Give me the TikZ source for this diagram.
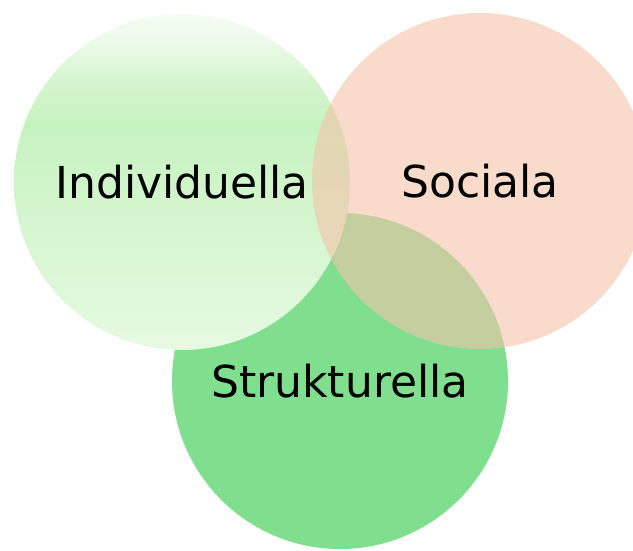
\documentclass[tikz,border=0pt]{standalone}
\usepackage{fontspec}
\setmainfont{DejaVu Sans}
\usetikzlibrary{positioning}

\definecolor{strukgreen}{HTML}{7FDF8E}
\definecolor{socpeach}{HTML}{F3C3A9}
\definecolor{indA}{HTML}{F6FCF4}
\definecolor{indB}{HTML}{EDFAEA}
\definecolor{indC}{HTML}{D4F5CE}
\definecolor{indD}{HTML}{C6F2C0}
\definecolor{indE}{HTML}{D2F5CC}
\definecolor{indF}{HTML}{E6FAE2}

\pgfdeclareverticalshading{indshade}{100bp}{color(0bp)=(indF); color(25bp)=(indF);
  color(47bp)=(indE); color(58.5bp)=(indD); color(65bp)=(indC); color(71bp)=(indB);
  color(75bp)=(indA); color(100bp)=(indA)}

\tikzset{
  area/.style={circle, inner sep=0pt, minimum size=336pt,
    font=\fontsize{44}{52}\selectfont}
}

\begin{document}
\begin{tikzpicture}[x=1pt, y=-1pt]
  \clip (0,0) rectangle (633,550);
  \useasboundingbox (0,0) rectangle (633,550);

  \node[area, fill=strukgreen] (struk) at (340,381) {Strukturella};
  \node[area, shading=indshade] (indiv) at (182,182) {Individuella};
  \node[area, fill=socpeach, fill opacity=0.6, text opacity=1] (soc) at (480,181) {Sociala};
\end{tikzpicture}
\end{document}
